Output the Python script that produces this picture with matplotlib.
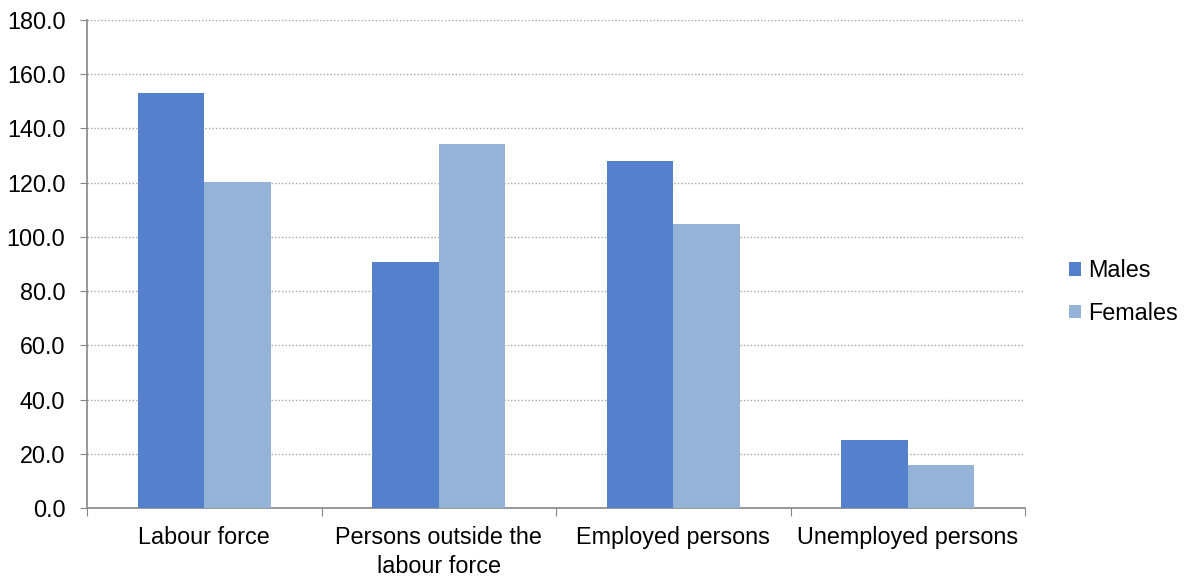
import matplotlib.pyplot as plt
import numpy as np

plt.rcParams['font.family'] = ['Liberation Sans', 'DejaVu Sans']

categories = ["Labour force", "Persons outside the\nlabour force", "Employed persons", "Unemployed persons"]
males = [153.0, 90.6, 128.0, 25.0]
females = [120.4, 134.3, 104.9, 15.7]
yticks = [0, 20, 40, 60, 80, 100, 120, 140, 160, 180]

fig = plt.figure(figsize=(11.87, 5.79), dpi=100)
ax = fig.add_axes([87 / 1187, 1 - 508 / 579, (1025 - 87) / 1187, (508 - 20) / 579])

x = np.arange(len(categories))
w = 0.283
ax.bar(x - w / 2, males, w, color="#5580CB", label="Males", zorder=3)
ax.bar(x + w / 2, females, w, color="#95B3D7", label="Females", zorder=3)

ax.set_xlim(-0.5, len(categories) - 0.5)
ax.set_ylim(0, 180)
ax.set_yticks(yticks)
ax.set_yticklabels([f"{v:.1f}" for v in yticks], fontsize=16.8)
ax.yaxis.grid(True, linestyle=(0, (1, 1.5)), color="#A6A6A6", linewidth=1, zorder=0)

# category boundary ticks on x axis, labels at centres
ax.set_xticks(np.arange(-0.5, len(categories)), minor=False)
ax.set_xticklabels([])
ax.set_xticks(x, minor=True)
ax.set_xticklabels(categories, minor=True, fontsize=16.8, linespacing=1.35)
ax.tick_params(axis="x", which="major", length=5.5, color="#868686", direction="out")
ax.tick_params(axis="x", which="minor", length=0, pad=13)
ax.tick_params(axis="y", length=5, color="#868686", direction="out", pad=10.5)

for s in ["top", "right"]:
    ax.spines[s].set_visible(False)
for s in ["left", "bottom"]:
    ax.spines[s].set_color("#868686")
    ax.spines[s].set_linewidth(1.2)

ax.legend(loc="center left", bbox_to_anchor=(1069 / 1187, 1 - 292 / 579),
          bbox_transform=fig.transFigure, frameon=False, fontsize=16.8,
          borderpad=0, borderaxespad=0,
          handlelength=0.52, handleheight=0.52, handletextpad=0.3, labelspacing=0.85)

fig.savefig("out.png", dpi=100)
